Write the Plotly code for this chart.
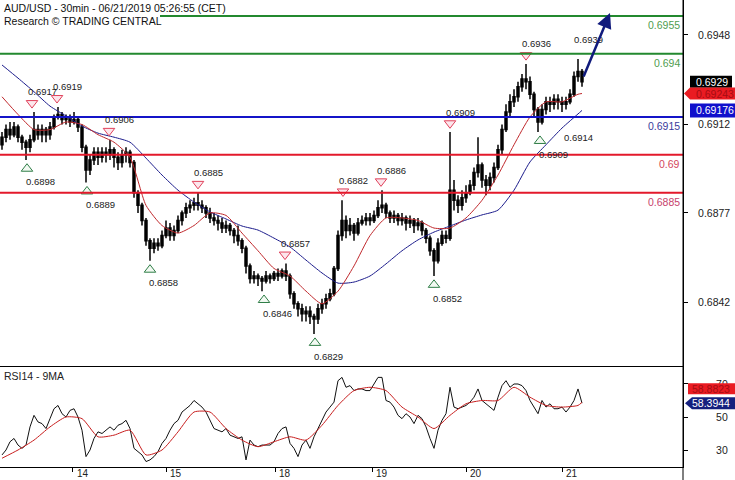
import plotly.graph_objects as go

# ---------------- data (prices in pips, 1 pip = 0.0001) ----------------
OPEN_PIPS = [
    6904, 6907, 6910, 6908, 6911, 6907, 6905, 6903, 6906, 6910,
    6908, 6910, 6908, 6911, 6915, 6916, 6914, 6915, 6913, 6914,
    6911, 6903, 6894, 6898, 6901, 6899, 6901, 6900, 6902, 6899,
    6897, 6900, 6901, 6897, 6885, 6880, 6874, 6866, 6863, 6865,
    6864, 6868, 6871, 6868, 6870, 6874, 6877, 6879, 6880, 6881,
    6880, 6879, 6877, 6875, 6874, 6873, 6871, 6872, 6870, 6868,
    6866, 6863, 6856, 6851, 6852, 6851, 6850, 6852, 6851, 6853,
    6852, 6854, 6852, 6845, 6841, 6839, 6837, 6838, 6836, 6835,
    6839, 6841, 6843, 6845, 6855, 6868, 6874, 6870, 6872, 6869,
    6873, 6874, 6875, 6874, 6876, 6879, 6880, 6877, 6875, 6876,
    6874, 6875, 6873, 6874, 6872, 6873, 6870, 6867, 6862, 6858,
    6865, 6868, 6867, 6886, 6882, 6880, 6883, 6885, 6888, 6893,
    6896, 6890, 6888, 6891, 6895, 6902, 6910, 6917, 6921, 6923,
    6927, 6930, 6929, 6924, 6918, 6913, 6918, 6921, 6920, 6922,
    6921, 6920, 6921, 6924, 6931, 6933]
CLOSE_PIPS = [
    6907, 6910, 6908, 6911, 6907, 6905, 6903, 6906, 6910, 6908,
    6910, 6908, 6911, 6915, 6916, 6914, 6915, 6913, 6914, 6911,
    6903, 6894, 6898, 6901, 6899, 6901, 6900, 6902, 6899, 6897,
    6900, 6901, 6897, 6885, 6880, 6874, 6866, 6863, 6865, 6864,
    6868, 6871, 6868, 6870, 6874, 6877, 6879, 6880, 6881, 6880,
    6879, 6877, 6875, 6874, 6873, 6871, 6872, 6870, 6868, 6866,
    6863, 6856, 6851, 6852, 6851, 6850, 6852, 6851, 6853, 6852,
    6854, 6852, 6845, 6841, 6839, 6837, 6838, 6836, 6835, 6839,
    6841, 6843, 6845, 6855, 6868, 6874, 6870, 6872, 6869, 6873,
    6874, 6875, 6874, 6876, 6879, 6880, 6877, 6875, 6876, 6874,
    6875, 6873, 6874, 6872, 6873, 6870, 6867, 6862, 6858, 6865,
    6868, 6867, 6886, 6882, 6880, 6883, 6885, 6888, 6893, 6896,
    6890, 6888, 6891, 6895, 6902, 6910, 6917, 6921, 6923, 6927,
    6930, 6929, 6924, 6918, 6913, 6918, 6921, 6920, 6922, 6921,
    6920, 6921, 6924, 6931, 6933, 6929]
HIGH_PIPS = [
    6909, 6912, 6913, 6913, 6912, 6908, 6906, 6908, 6917, 6912,
    6912, 6911, 6913, 6916, 6919, 6917, 6916, 6916, 6917, 6915,
    6912, 6904, 6900, 6903, 6903, 6903, 6903, 6906, 6903, 6901,
    6902, 6903, 6902, 6898, 6886, 6881, 6875, 6867, 6867, 6867,
    6870, 6874, 6873, 6872, 6876, 6878, 6881, 6882, 6883, 6885,
    6882, 6880, 6879, 6877, 6876, 6875, 6874, 6873, 6871, 6872,
    6867, 6864, 6857, 6854, 6853, 6852, 6854, 6853, 6854, 6855,
    6855, 6857, 6853, 6846, 6842, 6841, 6840, 6840, 6837, 6841,
    6843, 6845, 6847, 6856, 6870, 6882, 6876, 6875, 6873, 6875,
    6876, 6877, 6877, 6878, 6882, 6886, 6881, 6878, 6878, 6877,
    6877, 6876, 6876, 6875, 6875, 6874, 6871, 6868, 6863, 6867,
    6870, 6870, 6909, 6890, 6884, 6886, 6888, 6890, 6895, 6907,
    6897, 6892, 6893, 6897, 6904, 6912, 6920, 6924, 6926, 6929,
    6932, 6936, 6931, 6925, 6919, 6920, 6923, 6923, 6924, 6924,
    6923, 6923, 6926, 6933, 6938, 6934]
LOW_PIPS = [
    6902, 6905, 6906, 6907, 6905, 6902, 6898, 6901, 6905, 6906,
    6905, 6905, 6906, 6910, 6914, 6912, 6912, 6911, 6912, 6909,
    6901, 6889, 6892, 6896, 6896, 6897, 6897, 6898, 6895, 6894,
    6895, 6897, 6895, 6883, 6877, 6872, 6864, 6858, 6861, 6862,
    6863, 6867, 6866, 6866, 6869, 6872, 6875, 6877, 6878, 6878,
    6877, 6875, 6873, 6872, 6870, 6869, 6869, 6868, 6865, 6864,
    6861, 6853, 6849, 6849, 6848, 6846, 6849, 6849, 6850, 6850,
    6851, 6850, 6843, 6839, 6836, 6834, 6834, 6833, 6829, 6833,
    6837, 6839, 6842, 6844, 6854, 6866, 6867, 6868, 6866, 6868,
    6872, 6872, 6872, 6873, 6875, 6877, 6875, 6873, 6873, 6872,
    6872, 6870, 6871, 6869, 6870, 6868, 6865, 6860, 6852, 6857,
    6864, 6865, 6866, 6878, 6877, 6878, 6881, 6884, 6886, 6891,
    6887, 6884, 6886, 6889, 6894, 6900, 6909, 6915, 6919, 6921,
    6925, 6926, 6922, 6915, 6909, 6912, 6916, 6917, 6918, 6918,
    6917, 6918, 6920, 6923, 6929, 6927]

# moving averages, sampled every 4 bars (+ last bar)
MA_BARS = list(range(0, 145, 4)) + [145]
MA_FAST_PIPS = [6923, 6916, 6910, 6910, 6913, 6912, 6908, 6905, 6899, 6880,
                6872, 6869, 6872, 6877, 6876, 6869, 6862, 6855, 6852, 6846,
                6841, 6846, 6856, 6868, 6875, 6875, 6874, 6871, 6871, 6875,
                6882, 6892, 6904, 6915, 6921, 6921, 6924, 6924.3]
MA_SLOW_PIPS = [6935.6, 6930.4, 6925, 6919.3, 6915.4, 6911.4, 6908.6, 6907, 6905, 6898.7,
                6892, 6886, 6881.3, 6877.4, 6874.6, 6871.8, 6870.2, 6867, 6863.5, 6858.3,
                6853.2, 6849.2, 6849.6, 6852, 6856.8, 6862, 6866.3, 6869.4, 6871.8, 6874.2,
                6876.2, 6878.1, 6886, 6897.2, 6904, 6910.6, 6916.2, 6917.6]

RSI = [27, 30, 35, 37, 33, 31, 33, 44, 51, 47,
       46, 43, 49, 55, 57, 52, 50, 54, 55, 50,
       42, 26, 30, 37, 41, 40, 42, 44, 42, 45,
       46, 48, 43, 31, 29, 27, 23, 24, 26, 29,
       34, 37, 42, 46, 48, 53, 55, 57, 60, 58,
       56, 53, 48, 43, 42, 41, 43, 39, 38, 37,
       38, 24, 36, 33, 32, 33, 33, 33, 35, 40,
       43, 44, 34, 31, 26, 33, 36, 31, 38, 43,
       48, 53, 56, 59, 72, 74, 68, 69, 66, 67,
       67, 66, 66, 70, 74, 74, 60, 59, 56, 51,
       49, 52, 50, 46, 51, 49, 44, 37, 31, 42,
       48, 52, 68, 56, 55, 56, 57, 59, 62, 67,
       60, 58, 56, 54, 62, 69, 72, 68, 70, 70,
       69, 66, 60, 56, 52, 60, 56, 58, 55, 55,
       56, 53, 56, 60, 67, 58.3944]
RSI_MA = [25, 30, 36, 44, 50, 49, 38, 39, 42, 27,
          30, 41, 53, 53, 43, 36, 32, 35, 38, 36,
          45, 57, 66, 68, 66, 56, 50, 43, 51, 58,
          60, 60, 68, 62, 57, 56, 57, 58.8823]

# pivots (bar time in hours, price)
PEAK_T = [7.5, 13.75, 26.75, 49, 70.75, 85.25, 94.75, 112, 131]
PEAK_V = [0.6917, 0.6919, 0.6906, 0.6885, 0.6857, 0.6882, 0.6886, 0.6909, 0.6936]
TROUGH_T = [6.25, 21.25, 37, 65.5, 78.25, 108, 134.5]
TROUGH_V = [0.6898, 0.6889, 0.6858, 0.6846, 0.6829, 0.6852, 0.6909]
EXTRA_HIGH = (143.75, 0.6939)
EXTRA_LOW = (140.5, 0.6914)

LEVELS = [0.6955, 0.694, 0.6915, 0.69, 0.6885]
LEVEL_TEXT = ["0.6955", "0.694", "0.6915", "0.69", "0.6885"]

DAY_TICKS = [17.65, 41, 68.25, 92.5, 116, 140]
DAY_TEXT = ["14", "15", "18", "19", "20", "21"]
MAIN_TICK_VALS = [0.69475, 0.69122, 0.6877, 0.68417]
MAIN_TICK_TEXT = ["0.6948", "0.6912", "0.6877", "0.6842"]
RSI_TICKS = [30, 50, 70]

FORECAST_TO = (152, 0.69562)

# ---------------- derived ----------------
P = lambda L: [v / 10000 for v in L]
opens, closes, highs, lows = P(OPEN_PIPS), P(CLOSE_PIPS), P(HIGH_PIPS), P(LOW_PIPS)
ma_fast, ma_slow = P(MA_FAST_PIPS), P(MA_SLOW_PIPS)
bars = list(range(len(closes)))

FONT = "Liberation Sans, Arial, sans-serif"
SPLIT = 101 / 467
MARK_OFF = 0.00035

LINE_COLORS = ["#23892f", "#23892f", "#1414c8", "#e3192b", "#e3192b"]
TEXT_COLORS = ["#4f9d4f", "#4f9d4f", "#3b3b9c", "#d4465c", "#c83f6c"]
LINE_START = [160 / 683, 0, 0, 0, 0]

fig = go.Figure()

fig.add_trace(go.Candlestick(
    x=bars, open=opens, high=highs, low=lows, close=closes,
    xaxis="x2", yaxis="y2", whiskerwidth=0, hoverinfo="skip",
    increasing=dict(line=dict(color="black", width=1.5), fillcolor="black"),
    decreasing=dict(line=dict(color="black", width=1.5), fillcolor="black"),
))
fig.add_trace(go.Scatter(x=MA_BARS, y=ma_slow, xaxis="x2", yaxis="y2", mode="lines",
                         line=dict(color="#1c1c8c", width=1, shape="spline", smoothing=0.6)))
fig.add_trace(go.Scatter(x=MA_BARS, y=ma_fast, xaxis="x2", yaxis="y2", mode="lines",
                         line=dict(color="#c0282c", width=1, shape="spline", smoothing=0.6)))
fig.add_trace(go.Scatter(x=PEAK_T, y=[v + MARK_OFF for v in PEAK_V], xaxis="x2", yaxis="y2",
                         mode="markers",
                         marker=dict(symbol="triangle-down", size=10, color="#fce6ec",
                                     line=dict(color="#e0405a", width=1))))
fig.add_trace(go.Scatter(x=TROUGH_T, y=[v - MARK_OFF for v in TROUGH_V], xaxis="x2", yaxis="y2",
                         mode="markers",
                         marker=dict(symbol="triangle-up", size=10, color="#f2f9f2",
                                     line=dict(color="#2e7d46", width=1))))

# RSI panel
fig.add_trace(go.Scatter(x=bars, y=RSI, xaxis="x", yaxis="y", mode="lines",
                         line=dict(color="#111111", width=1)))
fig.add_trace(go.Scatter(x=MA_BARS, y=RSI_MA, xaxis="x", yaxis="y", mode="lines",
                         line=dict(color="#c81e1e", width=1, shape="spline", smoothing=0.6)))

shapes = []
for lv, c, x0 in zip(LEVELS, LINE_COLORS, LINE_START):
    shapes.append(dict(type="line", xref="paper", yref="y2", x0=x0, x1=1, y0=lv, y1=lv,
                       line=dict(color=c, width=2)))
# axis line extension to bottom of image
shapes.append(dict(type="line", xref="paper", yref="paper", x0=1, x1=1, y0=-13 / 467, y1=1,
                   line=dict(color="black", width=1)))


def pix_shape(yref, yval, path, color):
    return dict(type="path", xref="paper", xanchor=1, xsizemode="pixel",
                yref=yref, yanchor=yval, ysizemode="pixel", path=path,
                fillcolor=color, line=dict(width=0), layer="above")


last_close = closes[-1]
last_fast = ma_fast[-1]
last_slow = ma_slow[-1]
shapes.append(pix_shape("y2", last_close, "M7,6 L49,6 L49,-6 L7,-6 Z", "#000000"))
shapes.append(pix_shape("y2", last_fast, "M1,0 L7,6 L52,6 L52,-6 L7,-6 Z", "#ea1b22"))
shapes.append(pix_shape("y2", last_slow, "M7,7 L52,7 L52,-7 L7,-7 Z", "#1010cc"))
shapes.append(pix_shape("y", RSI_MA[-1], "M5,19 L52,19 L52,8 L5,8 Z", "#ea1b22"))
shapes.append(pix_shape("y", RSI[-1], "M2,0 L9,6 L52,6 L52,-6 L9,-6 Z", "#15207e"))

ann = []
ann.append(dict(text="AUD/USD - 30min - 06/21/2019 05:26:55 (CET)", xref="paper", yref="paper",
                x=0, y=1, xanchor="left", yanchor="top", xshift=2, yshift=0, showarrow=False,
                font=dict(size=10.5, color="#111", family=FONT)))
ann.append(dict(text="Research © TRADING CENTRAL", xref="paper", yref="paper",
                x=0, y=1, xanchor="left", yanchor="top", xshift=2, yshift=-13, showarrow=False,
                font=dict(size=10.5, color="#111", family=FONT)))
ann.append(dict(text="RSI14 - 9MA", xref="paper", yref="paper", x=0, y=SPLIT,
                xanchor="left", yanchor="top", xshift=2, yshift=-2, showarrow=False,
                font=dict(size=10.5, color="#222", family=FONT)))
for lv, t, c in zip(LEVELS, LEVEL_TEXT, TEXT_COLORS):
    ann.append(dict(text=t, xref="paper", yref="y2", x=1, y=lv, xanchor="right", yanchor="middle",
                    xshift=-1, yshift=-9, showarrow=False, font=dict(size=10.5, color=c, family=FONT)))
for t, v in zip(PEAK_T, PEAK_V):
    ann.append(dict(text=f"{v:.4f}", xref="x2", yref="y2", x=t, y=v, xanchor="left", yanchor="middle",
                    xshift=-6, yshift=20, showarrow=False, font=dict(size=9.5, color="#222", family=FONT)))
for t, v in zip(TROUGH_T, TROUGH_V):
    ann.append(dict(text=f"{v:.4f}", xref="x2", yref="y2", x=t, y=v, xanchor="left", yanchor="middle",
                    xshift=-3, yshift=-22, showarrow=False, font=dict(size=9.5, color="#222", family=FONT)))
ann.append(dict(text=f"{EXTRA_HIGH[1]:.4f}", xref="x2", yref="y2", x=EXTRA_HIGH[0], y=EXTRA_HIGH[1],
                xanchor="left", yanchor="middle", xshift=-5, yshift=17, showarrow=False,
                font=dict(size=9.5, color="#222", family=FONT)))
ann.append(dict(text=f"{EXTRA_LOW[1]:.4f}", xref="x2", yref="y2", x=EXTRA_LOW[0], y=EXTRA_LOW[1],
                xanchor="left", yanchor="middle", xshift=-2, yshift=-18, showarrow=False,
                font=dict(size=9.5, color="#222", family=FONT)))
# value boxes text
ann.append(dict(text=f"{last_close:.4f}", xref="paper", yref="y2", x=1, y=last_close, xanchor="left",
                yanchor="middle", xshift=12, showarrow=False, borderpad=0,
                font=dict(size=10.5, color="white", family=FONT)))
ann.append(dict(text=f"{last_fast:.5f}", xref="paper", yref="y2", x=1, y=last_fast, xanchor="left",
                yanchor="middle", xshift=12, showarrow=False, borderpad=0,
                font=dict(size=10.5, color="#a50d12", family=FONT)))
ann.append(dict(text=f"{last_slow:.5f}", xref="paper", yref="y2", x=1, y=last_slow, xanchor="left",
                yanchor="middle", xshift=12, showarrow=False, borderpad=0,
                font=dict(size=10.5, color="white", family=FONT)))
ann.append(dict(text=f"{RSI_MA[-1]:.4f}", xref="paper", yref="y", x=1, y=RSI_MA[-1], xanchor="left",
                yanchor="middle", xshift=8, yshift=13, showarrow=False, borderpad=0,
                font=dict(size=10.5, color="#a50d12", family=FONT)))
ann.append(dict(text=f"{RSI[-1]:.4f}", xref="paper", yref="y", x=1, y=RSI[-1], xanchor="left",
                yanchor="middle", xshift=8, showarrow=False, borderpad=0,
                font=dict(size=10.5, color="white", family=FONT)))
for t, s in zip(DAY_TICKS, DAY_TEXT):
    ann.append(dict(text=s, xref="x", yref="paper", x=t, y=0, xanchor="left", yanchor="top",
                    xshift=3, yshift=0, borderpad=0, showarrow=False,
                    font=dict(size=10, color="#222", family=FONT)))
# forecast arrow
ann.append(dict(text="", xref="x2", yref="y2", x=FORECAST_TO[0], y=FORECAST_TO[1], ax=-27, ay=65,
                showarrow=True, arrowhead=2, arrowsize=1.2, arrowwidth=2.5, arrowcolor="#101a7c",
                standoff=0))

axis_common = dict(showgrid=False, zeroline=False, linecolor="black", linewidth=1)
fig.update_layout(
    width=735, height=480, margin=dict(l=0, r=52, t=0, b=13),
    paper_bgcolor="white", plot_bgcolor="white", showlegend=False, hovermode=False,
    font=dict(family=FONT, size=10.5, color="#222"),
    xaxis=dict(domain=[0, 1], anchor="y", range=[-0.5, 170.25], showline=True, ticks="outside",
               ticklen=4, tickcolor="black", tickvals=DAY_TICKS, showticklabels=False, **axis_common),
    yaxis=dict(domain=[0, SPLIT], anchor="x", side="right", range=[19.7, 80.9], tickvals=RSI_TICKS,
               ticks="outside", ticklen=4, tickcolor="black", showline=True, ticklabelstandoff=26,
               tickfont=dict(size=10.5, color="#222"), **axis_common),
    xaxis2=dict(domain=[0, 1], anchor="y2", matches="x", range=[-0.5, 170.25], showline=True,
                showticklabels=False, ticks="", rangeslider=dict(visible=False), **axis_common),
    yaxis2=dict(domain=[SPLIT, 1], anchor="x2", side="right", range=[0.681635, 0.696134],
                tickvals=MAIN_TICK_VALS, ticktext=MAIN_TICK_TEXT, ticks="outside", ticklen=4,
                tickcolor="black", showline=True, ticklabelstandoff=8,
                tickfont=dict(size=10.5, color="#222"), **axis_common),
    shapes=shapes, annotations=ann,
)

fig.write_html("out.html", config={"displayModeBar": False, "staticPlot": True},
               post_script="document.body.style.margin='0';document.body.style.overflow='hidden';")
